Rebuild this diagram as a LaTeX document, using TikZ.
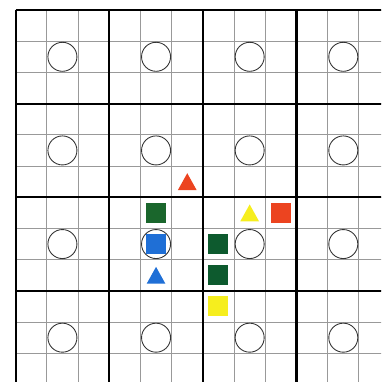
\documentclass[tikz,border=0pt]{standalone}
\definecolor{tokred}{HTML}{EC4420}
\definecolor{tokblue}{HTML}{1F6FD6}
\definecolor{tokyellow}{HTML}{F6EE1E}
\definecolor{tokgreen}{HTML}{1A662C}
\definecolor{tokdark}{HTML}{0D5A2E}
\begin{document}
\begin{tikzpicture}[
 sq/.style={fill=#1},
 tri/.style={fill=#1}]
 \clip (-0.5,0.32) rectangle (11.71,-11.92);
 \draw[step=1.0, black!40, line width=0.8pt] (0,-12) grid (12,0);
 \draw[step=3.0, black, line width=2pt] (0,-12) grid (12,0);
 \foreach \i in {0,...,3}
  \foreach \j in {0,...,3}
   \draw[black!80, line width=0.8pt] (3*\i+1.5,-3*\j-1.5) circle (0.465);
 % squares
 \fill[sq=tokgreen] (4.18,-6.18) rectangle (4.82,-6.82);
 \fill[sq=tokblue] (4.18,-7.18) rectangle (4.82,-7.82);
 \fill[sq=tokred] (8.18,-6.18) rectangle (8.82,-6.82);
 \fill[sq=tokdark] (6.18,-7.18) rectangle (6.82,-7.82);
 \fill[sq=tokdark] (6.18,-8.18) rectangle (6.82,-8.82);
 \fill[sq=tokyellow] (6.18,-9.18) rectangle (6.82,-9.82);
 % triangles
 \fill[tri=tokred] (5.2,-5.77) -- (5.8,-5.77) -- (5.5,-5.23) -- cycle;
 \fill[tri=tokblue] (4.2,-8.77) -- (4.8,-8.77) -- (4.5,-8.23) -- cycle;
 \fill[tri=tokyellow] (7.2,-6.77) -- (7.8,-6.77) -- (7.5,-6.23) -- cycle;
\end{tikzpicture}
\end{document}
